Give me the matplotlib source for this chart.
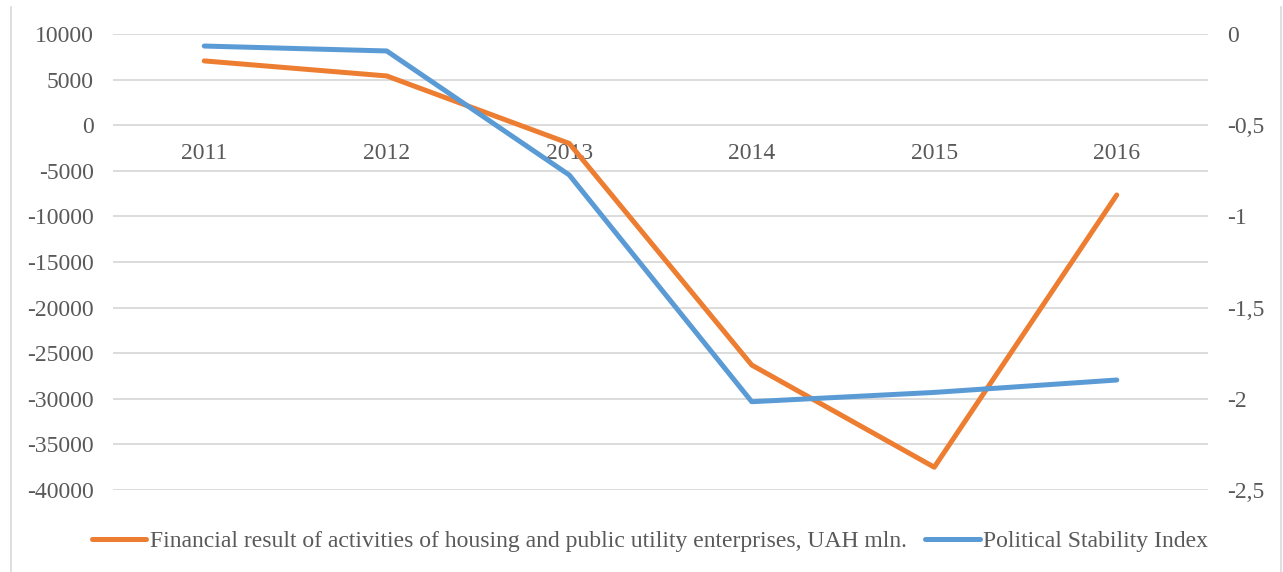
import matplotlib
matplotlib.use("Agg")
import matplotlib.pyplot as plt
from matplotlib.ticker import FuncFormatter
from matplotlib.lines import Line2D

# --- data ---
years = ["2011", "2012", "2013", "2014", "2015", "2016"]
financial_result = [7050, 5400, -2000, -26300, -37500, -7650]   # UAH mln, left axis
stability_index = [-0.066, -0.093, -0.773, -2.016, -1.965, -1.897]  # right axis

fin_label = "Financial result of activities of housing and public utility enterprises, UAH mln."
psi_label = "Political Stability Index"

ORANGE = "#ED7D31"
BLUE = "#5B9BD5"
TEXT = "#595959"
GRID = "#d9d9d9"

plt.rcParams["font.family"] = ["Liberation Serif", "DejaVu Serif"]
plt.rcParams["font.size"] = 17
plt.rcParams["axes.unicode_minus"] = False

fig = plt.figure(figsize=(12.83, 5.72), dpi=100)
ax = fig.add_axes([113 / 1283, 1 - 490 / 572, (1208 - 113) / 1283, (490 - 34) / 572])
ax2 = ax.twinx()

x = list(range(len(years)))
ax.plot(x, financial_result, color=ORANGE, lw=3.6, solid_capstyle="round", zorder=3)
ax2.plot(x, stability_index, color=BLUE, lw=3.6, solid_capstyle="round", zorder=3)

ax.set_xlim(-0.5, len(years) - 0.5)
ax.set_ylim(-40000, 10000)
ax.set_yticks(range(-40000, 10001, 5000))
ax2.set_ylim(-2.5, 0)
ax2.set_yticks([-2.5, -2, -1.5, -1, -0.5, 0])

def comma_fmt(v, pos):
    return ("%g" % v).replace(".", ",")

ax2.yaxis.set_major_formatter(FuncFormatter(comma_fmt))

ax.grid(axis="y", color=GRID, lw=1.3)
ax.set_axisbelow(True)

# category labels sit just below the zero line
ax.spines["bottom"].set_position(("data", 0))
ax.set_xticks(x)
ax.set_xticklabels(years)
ax.tick_params(axis="x", length=0, pad=13, colors=TEXT)
ax.tick_params(axis="y", length=0, pad=14, colors=TEXT)
ax2.tick_params(axis="y", length=0, pad=14, colors=TEXT)

for a in (ax, ax2):
    for sp in a.spines.values():
        sp.set_visible(False)

handles = [Line2D([], [], color=ORANGE, lw=3.6, solid_capstyle="round"),
           Line2D([], [], color=BLUE, lw=3.6, solid_capstyle="round")]
leg = fig.legend(handles, [fin_label, psi_label], loc="center",
                 bbox_to_anchor=(650 / 1283, 1 - 541 / 572), ncol=2, frameon=False,
                 handlelength=2.3, handletextpad=0.15, columnspacing=0.8)
for t in leg.get_texts():
    t.set_color(TEXT)

# chart border remnants
fig.add_artist(Line2D([11 / 1283, 11 / 1283], [0, 1 - 7 / 572], transform=fig.transFigure, color=GRID, lw=1.2))
fig.add_artist(Line2D([1281 / 1283, 1281 / 1283], [0, 1 - 7 / 572], transform=fig.transFigure, color=GRID, lw=1.2))

fig.savefig("out.png", dpi=100, facecolor="white")
